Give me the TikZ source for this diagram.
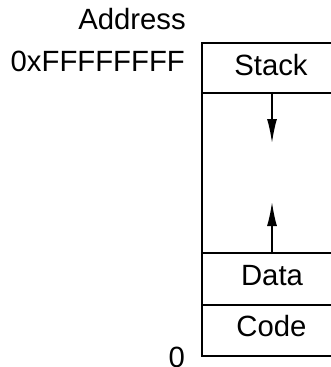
\documentclass[tikz,border=0pt]{standalone}
\usepackage{fontspec}
\setmainfont{Liberation Sans}
\usetikzlibrary{arrows.meta}
\begin{document}
\begin{tikzpicture}[x=1pt,y=-1pt,
  cell/.style={draw, line width=2.4pt, minimum width=140pt, inner sep=0pt},
  lbl/.style={font=\fontsize{29.3}{35}\selectfont, inner sep=0pt},
  growarrow/.style={line width=1.6pt, -{Latex[length=24pt,width=10pt]}}]
\useasboundingbox (0,0) rectangle (331,367);
% memory segments, top to bottom
\node[cell, minimum height=50pt]  (stack) at (272,68)    {};
\node[cell, minimum height=160pt] (free)  at (272,173)   {};
\node[cell, minimum height=52pt]  (data)  at (272,279)   {};
\node[cell, minimum height=51pt]  (code)  at (272,330.5) {};
% segment names
\node[lbl, anchor=base] (tstack) at (271,75)  {Stack};
\node[lbl, anchor=base] (tdata)  at (272,285) {Data};
\node[lbl, anchor=base] (tcode)  at (271.5,336) {Code};
% address labels
\node[lbl, anchor=base east] (addr) at (186,29)  {Address};
\node[lbl, anchor=base east] (top)  at (185,71)  {0xFFFFFFFF};
\node[lbl, anchor=base east] (zero) at (185,367.5) {0};
% growth directions of stack and heap
\coordinate (sdown) at (272,143);
\coordinate (hup)   at (272,202);
\draw[growarrow] (free.north) -- (sdown);
\draw[growarrow] (free.south) -- (hup);
\end{tikzpicture}
\end{document}
